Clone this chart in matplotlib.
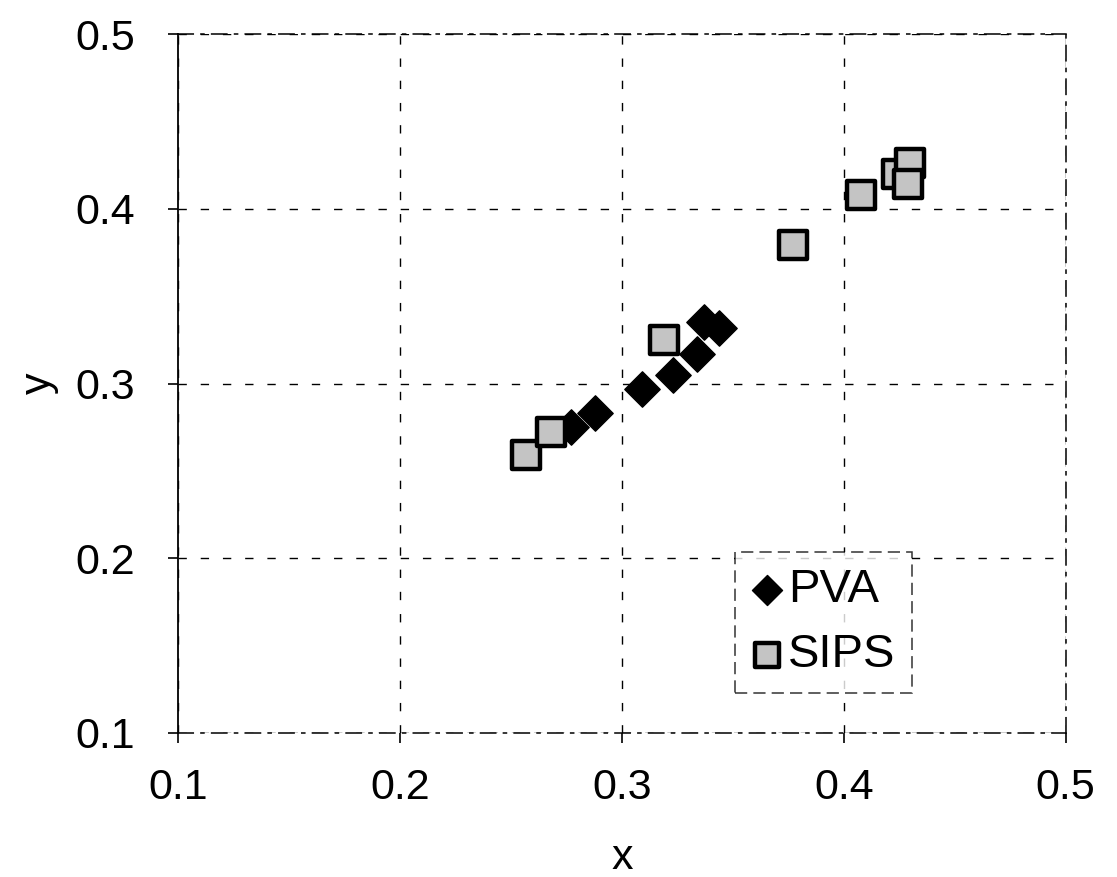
import matplotlib
matplotlib.use("Agg")
import matplotlib.pyplot as plt

plt.rcParams['font.family'] = ['Liberation Sans', 'DejaVu Sans']

# data
pva_x = [0.277, 0.288, 0.309, 0.323, 0.334, 0.337, 0.344]
pva_y = [0.275, 0.283, 0.297, 0.305, 0.317, 0.335, 0.332]

sips_x = [0.257, 0.268, 0.319, 0.377, 0.408, 0.424, 0.430, 0.429]
sips_y = [0.259, 0.272, 0.325, 0.379, 0.408, 0.420, 0.426, 0.414]

ticks = [0.1, 0.2, 0.3, 0.4, 0.5]

fig = plt.figure(figsize=(11.17, 8.77), dpi=100)
ax = fig.add_axes([0.1594, 0.1642, 0.7946, 0.797])

ax.scatter(pva_x, pva_y, marker='D', s=18**2, color='black', label='PVA', zorder=3)
ax.scatter(sips_x, sips_y, marker='s', s=20**2, facecolor='#c4c4c4', edgecolor='black',
           linewidth=3.2, label='SIPS', zorder=4)

ax.set_xlim(0.1, 0.5)
ax.set_ylim(0.1, 0.5)
ax.set_xticks(ticks)
ax.set_yticks(ticks)
ax.set_xticklabels([f'{t:.1f}' for t in ticks])
ax.set_yticklabels([f'{t:.1f}' for t in ticks])
ax.tick_params(labelsize=31, direction='out', length=7, width=1.2)
ax.tick_params(axis='x', pad=18)
ax.tick_params(axis='y', pad=24)

ax.grid(True, color='black', linestyle=(0, (6, 10)), linewidth=1)
ax.set_axisbelow(True)

ax.spines['left'].set_linewidth(1.3)
for side in ['top', 'right', 'bottom']:
    ax.spines[side].set_linestyle((0, (10, 5, 2, 5)))
    ax.spines[side].set_linewidth(1.1)

ax.set_xlabel('x', fontsize=31, labelpad=22)
ax.set_ylabel('y', fontsize=31, labelpad=12)

leg = ax.legend(loc='lower left', bbox_to_anchor=(0.627, 0.057), fontsize=34,
                frameon=True, fancybox=False, handletextpad=0.1, borderpad=0.34,
                labelspacing=0.44, handlelength=0.7, borderaxespad=0, markerscale=0.85)
leg.get_frame().set_edgecolor('black')
leg.get_frame().set_linewidth(1.1)
leg.get_frame().set_linestyle((0, (8, 4)))

fig.savefig('out.png', dpi=100)
